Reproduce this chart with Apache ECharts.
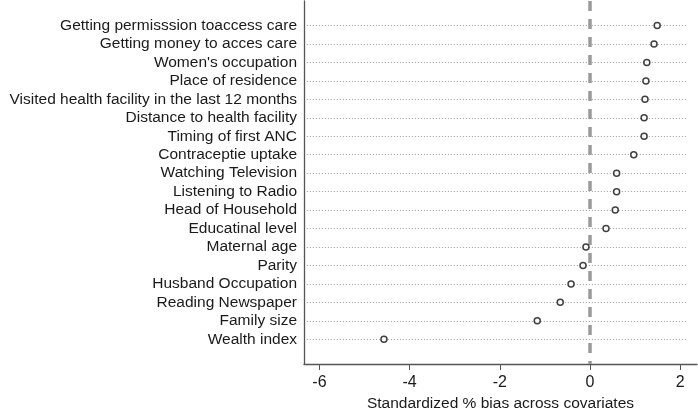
<!DOCTYPE html>
<html>
<head>
<meta charset="utf-8">
<script src="https://cdn.jsdelivr.net/npm/echarts@6/dist/echarts.min.js"></script>
<style>
  html, body { margin: 0; padding: 0; background: #fff; }
  #main { width: 698px; height: 409px; }
</style>
</head>
<body>
<div id="main"></div>
<script>
// covariates, top to bottom
const covariates = [
  'Getting permisssion toaccess care',
  'Getting money to acces care',
  "Women's occupation",
  'Place of residence',
  'Visited health facility in the last 12 months',
  'Distance to health facility',
  'Timing of first ANC',
  'Contraceptie uptake',
  'Watching Television',
  'Listening to Radio',
  'Head of Household',
  'Educatinal level',
  'Maternal age',
  'Parity',
  'Husband Occupation',
  'Reading Newspaper',
  'Family size',
  'Wealth index'
]
// standardized % bias
const bias = [1.49, 1.42, 1.26, 1.24, 1.22, 1.20, 1.20, 0.97, 0.59, 0.59, 0.56, 0.355, -0.09, -0.155, -0.42, -0.66, -1.17, -4.57]
const xTicks = [-6, -4, -2, 0, 2]

const chart = echarts.init(document.getElementById('main'))
const rowIdx = covariates.map((c, i) => i)
// dotted guide lines stop a little short of the plot edges
const lineFrom = -6.28
const lineTo = 2.17

const option = {
  animation: false,
  textStyle: { fontFamily: 'Liberation Sans, Arial, sans-serif' },
  grid: { left: 304, right: 1, top: 1, bottom: 45, outerBoundsMode: 'none', containLabel: false },
  xAxis: {
    type: 'value',
    min: -6.343,
    max: 2.373,
    name: 'Standardized % bias across covariates',
    nameLocation: 'middle',
    nameGap: 30,
    nameTextStyle: { fontSize: 15.5, color: '#1a1a1a' },
    axisLine: { show: true, onZero: false, lineStyle: { color: '#555', width: 1.3 } },
    axisTick: { show: true, length: 6, customValues: xTicks, lineStyle: { color: '#555' } },
    axisLabel: { customValues: xTicks, fontSize: 16, color: '#1a1a1a', margin: 11 },
    splitLine: { show: false }
  },
  yAxis: {
    type: 'value',
    inverse: true,
    min: -1.33,
    max: 18.34,
    axisLine: { show: true, onZero: false, lineStyle: { color: '#555', width: 1.3 } },
    axisTick: { show: false, customValues: rowIdx },
    axisLabel: {
      customValues: rowIdx,
      formatter: v => covariates[Math.round(v)] || '',
      fontSize: 15.5,
      color: '#1a1a1a',
      margin: 7
    },
    splitLine: { show: false }
  },
  series: [{
    type: 'scatter',
    data: bias.map((b, i) => [b, i]),
    symbol: 'circle',
    symbolSize: 6,
    itemStyle: { color: '#fff', borderColor: '#111', borderWidth: 1.5 },
    z: 5,
    markLine: {
      silent: true,
      symbol: 'none',
      label: { show: false },
      data: [
        ...rowIdx.map(i => [
          { coord: [lineFrom, i], lineStyle: { color: '#999', width: 1, type: [1, 2] } },
          { coord: [lineTo, i] }
        ]),
        { xAxis: 0, lineStyle: { color: '#9a9a9a', width: 3.5, type: [10, 8] } }
      ]
    }
  }]
}
chart.setOption(option)
</script>
</body>
</html>
